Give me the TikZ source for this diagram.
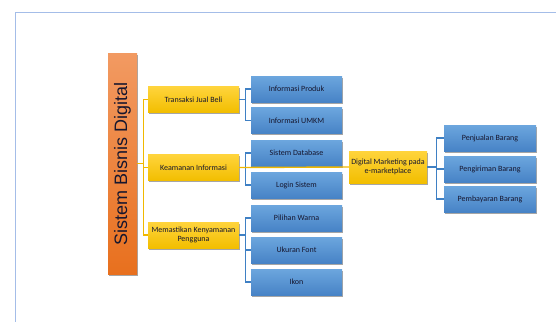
\documentclass[tikz,border=0pt]{standalone}
\usepackage{fontspec}
\setmainfont{Carlito}
\newfontfamily\titlefont{Liberation Sans}
\usepackage{tikz}
\usetikzlibrary{shadows}
\usetikzlibrary{positioning}
\definecolor{frameblue}{HTML}{A4BDE8}
\definecolor{orangetop}{HTML}{F29A62}
\definecolor{orangebot}{HTML}{E8701E}
\definecolor{yellowtop}{HTML}{FFD43C}
\definecolor{yellowbot}{HTML}{F2BE00}
\definecolor{bluetop}{HTML}{6CA6DE}
\definecolor{bluebot}{HTML}{4783C6}
\definecolor{yellowline}{HTML}{F0B800}
\definecolor{blueline}{HTML}{3F80C4}
\definecolor{txt}{HTML}{16162E}
\tikzstyle{boxshadow}=[drop shadow={shadow xshift=0.8pt,shadow yshift=-1.6pt,opacity=0.35,fill=black}]
\tikzstyle{root}=[rectangle,boxshadow,top color=orangetop,bottom color=orangebot,inner sep=0pt,minimum width=29pt,minimum height=221pt,text=txt,font=\titlefont\fontsize{18}{20}\selectfont]
\tikzstyle{topic}=[rectangle,boxshadow,top color=yellowtop,bottom color=yellowbot,inner sep=0pt,minimum width=91pt,minimum height=26pt,align=center,text=txt,font=\fontsize{8}{8.6}\selectfont]
\tikzstyle{subitem}=[rectangle,boxshadow,top color=bluetop,bottom color=bluebot,inner sep=0pt,minimum width=91pt,minimum height=26pt,align=center,text=txt,font=\fontsize{8}{8.6}\selectfont]
\tikzstyle{yline}=[draw=yellowline,line width=1.4pt]
\tikzstyle{bline}=[draw=blueline,line width=1.3pt]
\tikzset{every picture/.style={
    x=1pt,y=-1pt
  }
}
\begin{document}
\begin{tikzpicture}
        \useasboundingbox (0,0) rectangle (556,322);
        \draw[frameblue,line width=1pt] (556,12) -- (15,12) -- (15,322);
        % root and topics
        \node[root] at (122.5,163.5) (sbd) {\rotatebox{90}{Sistem Bisnis Digital}};
        \node[topic] at (193.5,99.5) (tjb) {Transaksi Jual Beli};
        \node[topic] at (193.5,167.5) (kin) {Keamanan Informasi};
        \node[topic] at (193.5,235) (mkp) {Memastikan Kenyamanan\\Pengguna};
        \node[topic,minimum width=78pt,minimum height=32pt] at (388,167) (dmm) {Digital Marketing pada\\e-marketplace};
        % second column
        \node[subitem] at (296.5,89) (ipr) {Informasi Produk};
        \node[subitem] at (296.5,120.5) (ium) {Informasi UMKM};
        \node[subitem] at (296.5,153) (sdb) {Sistem Database};
        \node[subitem] at (296.5,185) (lgs) {Login Sistem};
        \node[subitem] at (296.5,218) (pwa) {Pilihan Warna};
        \node[subitem] at (296.5,250) (ufo) {Ukuran Font};
        \node[subitem] at (296.5,282) (ikn) {Ikon};
        % third column
        \node[subitem,minimum width=92pt] at (490,138) (pjb) {Penjualan Barang};
        \node[subitem,minimum width=92pt] at (490,169) (pgb) {Pengiriman Barang};
        \node[subitem,minimum width=92pt] at (490,199) (pmb) {Pembayaran Barang};
        % connectors
        \draw[yline] (sbd.east) -- ++(6,0) |- (tjb.west);
        \draw[yline] (sbd.east) -- ++(6,0) |- (kin.west);
        \draw[yline] (sbd.east) -- ++(6,0) |- (mkp.west);
        \draw[bline] (tjb.east) -- ++(6,0) |- (ipr.west);
        \draw[bline] (tjb.east) -- ++(6,0) |- (ium.west);
        \draw[bline] (kin.east) -- ++(6,0) |- (sdb.west);
        \draw[bline] (kin.east) -- ++(6,0) |- (lgs.west);
        \draw[bline] (mkp.east) -- ++(6,0) |- (pwa.west);
        \draw[bline] (mkp.east) -- ++(6,0) |- (ufo.west);
        \draw[bline] (mkp.east) -- ++(6,0) |- (ikn.west);
        \draw[bline] (dmm.east) -- ++(9,0) |- (pjb.west);
        \draw[bline] (dmm.east) -- ++(9,0) |- (pgb.west);
        \draw[bline] (dmm.east) -- ++(9,0) |- (pmb.west);
        \draw[yline] (kin.east) -- (dmm.west);
      \end{tikzpicture}
\end{document}
